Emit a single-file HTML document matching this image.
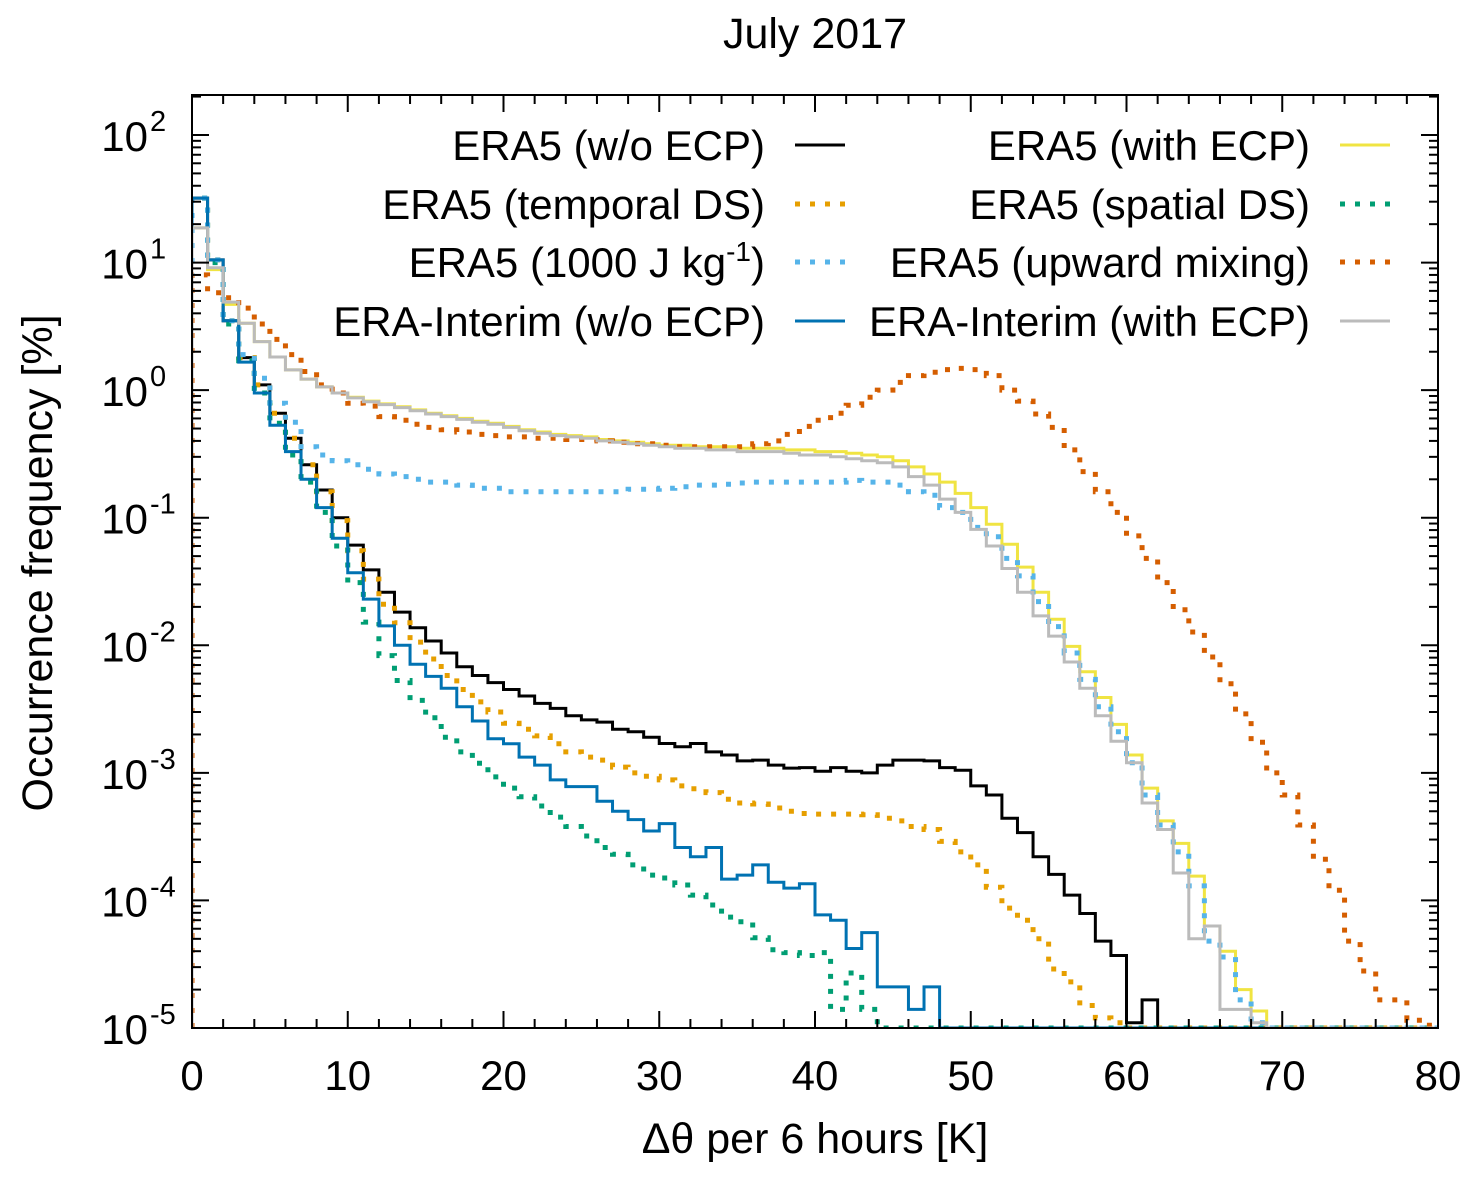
<!DOCTYPE html>
<html><head><meta charset="utf-8"><style>
html,body{margin:0;padding:0;background:#fff;}
svg{display:block;font-family:"Liberation Sans",sans-serif;}
</style></head><body>
<svg id="chart" width="1483" height="1180" viewBox="0 0 1483 1180" xmlns="http://www.w3.org/2000/svg">
<g id="marks"></g>
<g id="axes"></g>
<g id="legend"></g>
<text x="815" y="48" font-size="43" text-anchor="middle">July 2017</text>
<text x="815" y="1153" font-size="43" text-anchor="middle">Δθ per 6 hours [K]</text>
<text transform="translate(52,563) rotate(-90)" font-size="43" text-anchor="middle">Occurrence frequency [%]</text>
</svg>
<script>
const xTicks = [0,10,20,30,40,50,60,70,80];
const yDecades = [-5,-4,-3,-2,-1,0,1,2];
const era5NoEcp = [32,10.5,3.5,1.8,1.1,0.66,0.42,0.26,0.165,0.1,0.061,0.039,0.026,0.0182,0.0137,0.0108,0.0087,0.0068,0.0058,0.0051,0.0045,0.0040,0.0035,0.0032,0.0028,0.0026,0.0025,0.0022,0.0021,0.0019,0.0017,0.0016,0.0017,0.00146,0.00138,0.00124,0.00126,0.00115,0.00109,0.0011,0.00103,0.0011,0.00103,0.001,0.00115,0.00126,0.00126,0.00124,0.0011,0.00105,7.9e-4,6.7e-4,4.4e-4,3.4e-4,2.2e-4,1.6e-4,1.1e-4,7.9e-5,4.8e-5,3.7e-5,1.1e-5,1.66e-5];
const era5WithEcp = [18.7,8.8,4.7,3.35,2.4,1.82,1.44,1.22,1.06,0.95,0.88,0.82,0.78,0.74,0.70,0.66,0.63,0.60,0.57,0.55,0.52,0.49,0.47,0.45,0.44,0.43,0.41,0.40,0.39,0.38,0.37,0.37,0.36,0.36,0.36,0.35,0.35,0.35,0.34,0.34,0.33,0.33,0.32,0.31,0.30,0.28,0.25,0.22,0.19,0.155,0.12,0.089,0.062,0.041,0.026,0.016,0.0098,0.0062,0.0039,0.0024,0.00138,7.6e-4,4.2e-4,2.8e-4,1.55e-4,6.3e-5,4e-5,2e-5,1.36e-5];
const era5TemporalDs = [32,10.5,3.5,1.8,1.1,0.66,0.42,0.26,0.16,0.095,0.055,0.033,0.021,0.015,0.0106,0.0078,0.0058,0.0045,0.0036,0.0030,0.00245,0.0022,0.00195,0.00169,0.00146,0.00133,0.00126,0.00111,0.00100,9.4e-4,8.8e-4,7.9e-4,7.5e-4,7.0e-4,6.2e-4,5.8e-4,5.7e-4,5.3e-4,5.0e-4,4.8e-4,4.75e-4,4.75e-4,4.75e-4,4.7e-4,4.4e-4,4.2e-4,3.8e-4,3.6e-4,2.9e-4,2.4e-4,1.9e-4,1.27e-4,8.7e-5,7.0e-5,5.0e-5,2.9e-5,2.3e-5,1.5e-5,1.2e-5,1.1e-5];
const era5SpatialDs = [32,10,3.3,1.7,0.95,0.55,0.31,0.19,0.11,0.06,0.031,0.0152,0.0083,0.0053,0.0037,0.0027,0.0019,0.00146,0.00119,9.3e-4,7.6e-4,6.5e-4,5.5e-4,4.5e-4,3.8e-4,3.2e-4,2.6e-4,2.3e-4,1.9e-4,1.58e-4,1.5e-4,1.32e-4,1.1e-4,9.2e-5,7.4e-5,6.8e-5,5.1e-5,4.1e-5,3.9e-5,3.7e-5,3.9e-5,1.4e-5,2.7e-5,1.4e-5];
const era5Cape1000 = [32,10.5,3.5,1.9,1.24,0.79,0.56,0.36,0.31,0.28,0.26,0.24,0.22,0.21,0.20,0.19,0.19,0.18,0.17,0.17,0.16,0.16,0.16,0.16,0.16,0.16,0.16,0.16,0.167,0.167,0.17,0.175,0.18,0.18,0.183,0.187,0.19,0.19,0.19,0.19,0.19,0.19,0.196,0.19,0.19,0.18,0.16,0.15,0.12,0.11,0.084,0.071,0.048,0.035,0.022,0.014,0.0087,0.0054,0.0033,0.0021,0.0012,6.7e-4,3.9e-4,2.4e-4,1.3e-4,4.8e-5,3.6e-5,1.66e-5,1.1e-5];
const era5Upward = [8,5.8,5.3,4.4,3.3,2.5,1.9,1.4,1.1,0.95,0.79,0.75,0.62,0.58,0.54,0.51,0.49,0.47,0.45,0.44,0.43,0.43,0.42,0.42,0.41,0.41,0.40,0.39,0.38,0.38,0.37,0.36,0.36,0.36,0.36,0.36,0.38,0.40,0.45,0.52,0.58,0.66,0.76,0.88,1.0,1.15,1.3,1.38,1.45,1.48,1.45,1.3,1.0,0.82,0.65,0.51,0.34,0.23,0.16,0.11,0.072,0.048,0.031,0.019,0.0127,0.0081,0.005,0.0029,0.00174,0.001,6.7e-4,3.9e-4,2.1e-4,1.2e-4,4.8e-5,2.8e-5,1.66e-5,1.66e-5,1.15e-5,1.05e-5];
const eraiNoEcp = [32,10.5,3.5,1.66,0.95,0.53,0.33,0.2,0.12,0.069,0.037,0.023,0.0142,0.0100,0.0071,0.0057,0.0046,0.0033,0.00255,0.00185,0.00169,0.00133,0.00115,8.8e-4,7.8e-4,7.8e-4,6.0e-4,5.0e-4,4.3e-4,3.5e-4,4.0e-4,2.6e-4,2.2e-4,2.6e-4,1.47e-4,1.58e-4,1.9e-4,1.39e-4,1.25e-4,1.35e-4,7.7e-5,7.0e-5,4.2e-5,5.6e-5,2.1e-5,2.1e-5,1.4e-5,2.1e-5];
const eraiWithEcp = [18.7,9.1,4.9,3.35,2.4,1.82,1.44,1.22,1.06,0.95,0.87,0.81,0.77,0.73,0.69,0.65,0.62,0.59,0.56,0.54,0.51,0.48,0.46,0.44,0.43,0.42,0.40,0.39,0.38,0.37,0.36,0.35,0.35,0.34,0.34,0.33,0.33,0.33,0.32,0.31,0.31,0.30,0.29,0.28,0.27,0.25,0.21,0.18,0.14,0.11,0.081,0.060,0.04,0.026,0.017,0.0118,0.0074,0.0046,0.0028,0.00177,0.0012,5.8e-4,3.6e-4,1.64e-4,5e-5,6.3e-5,1.4e-5,1.4e-5,1.1e-5];

const NS = 'http://www.w3.org/2000/svg';
const X0 = 192, X1 = 1438, YT = 95, YB = 1028;
const XMIN = 0, XMAX = 80, LMIN = -5, LMAX = 2.3135;
const nBins = 80;
function xs(v){ return X0 + (v - XMIN) / (XMAX - XMIN) * (X1 - X0); }
function ys(v){ const l = Math.max(Math.log10(Math.max(v, 1e-5)), LMIN); return YB - (l - LMIN) / (LMAX - LMIN) * (YB - YT); }

const series = [
  {label:'ERA5 (w/o ECP)', data: era5NoEcp, color:'#000000', dotted:false, name:'series-era5-wo-ecp'},
  {label:'ERA5 (with ECP)', data: era5WithEcp, color:'#f0e442', dotted:false, name:'series-era5-with-ecp'},
  {label:'ERA5 (temporal DS)', data: era5TemporalDs, color:'#e69f00', dotted:true, name:'series-era5-temporal-ds'},
  {label:'ERA5 (spatial DS)', data: era5SpatialDs, color:'#009e73', dotted:true, name:'series-era5-spatial-ds'},
  {label:'ERA5 (1000 J kg-1)', data: era5Cape1000, color:'#56b4e9', dotted:true, name:'series-era5-1000-j-kg'},
  {label:'ERA5 (upward mixing)', data: era5Upward, color:'#d55e00', dotted:true, name:'series-era5-upward-mixing'},
  {label:'ERA-Interim (w/o ECP)', data: eraiNoEcp, color:'#0072b2', dotted:false, name:'series-erai-wo-ecp'},
  {label:'ERA-Interim (with ECP)', data: eraiWithEcp, color:'#bbbbbb', dotted:false, name:'series-erai-with-ecp'}
];

const marks = document.getElementById('marks');
const defs = document.createElementNS(NS,'defs');
defs.innerHTML = '<clipPath id="plotclip"><rect x="'+X0+'" y="'+YT+'" width="'+(X1-X0)+'" height="'+(YB-YT)+'"/></clipPath>';
document.getElementById('chart').insertBefore(defs, marks);
marks.setAttribute('clip-path','url(#plotclip)');

series.forEach(s => {
  let d = 'M' + xs(0) + ' ' + YB;
  for (let k = 0; k < nBins; k++) {
    const v = s.data[k] === undefined ? 0 : s.data[k];
    const y = ys(v);
    d += ' L' + xs(k) + ' ' + y.toFixed(1) + ' L' + xs(k + 1) + ' ' + y.toFixed(1);
  }
  const p = document.createElementNS(NS,'path');
  p.setAttribute('d', d);
  p.setAttribute('fill','none');
  p.setAttribute('stroke', s.color);
  if (s.dotted) { p.setAttribute('stroke-width','5'); p.setAttribute('stroke-dasharray','5 10'); }
  else { p.setAttribute('stroke-width','3'); }
  
  
  marks.appendChild(p);
});

const axes = document.getElementById('axes');
function line(x1,y1,x2,y2,w,name){
  const l = document.createElementNS(NS,'line');
  l.setAttribute('x1',x1); l.setAttribute('y1',y1); l.setAttribute('x2',x2); l.setAttribute('y2',y2);
  l.setAttribute('stroke','#000'); l.setAttribute('stroke-width',w);
  
  
  axes.appendChild(l);
}
const frame = document.createElementNS(NS,'rect');
frame.setAttribute('x',X0); frame.setAttribute('y',YT); frame.setAttribute('width',X1-X0); frame.setAttribute('height',YB-YT);
frame.setAttribute('fill','none'); frame.setAttribute('stroke','#000'); frame.setAttribute('stroke-width','2');


axes.appendChild(frame);

for (let v = 0; v <= 80; v += 2) {
  const major = v % 10 === 0;
  const L = major ? 17 : 9;
  const x = xs(v);
  line(x, YB, x, YB - L, 2, 'x-tick');
  line(x, YT, x, YT + L, 2, 'x-tick-top');
}
xTicks.forEach(v => {
  const t = document.createElementNS(NS,'text');
  t.setAttribute('x', xs(v)); t.setAttribute('y', 1090);
  t.setAttribute('font-size','42'); t.setAttribute('text-anchor','middle');
  t.textContent = v;
  
  
  axes.appendChild(t);
});
yDecades.forEach(e => {
  const y = ys(Math.pow(10, e));
  line(X0, y, X0 + 17, y, 2, 'y-tick');
  line(X1, y, X1 - 17, y, 2, 'y-tick-right');
  if (e < 2) {
    for (let m = 2; m <= 9; m++) {
      const ym = ys(m * Math.pow(10, e));
      line(X0, ym, X0 + 9, ym, 2, 'y-minor-tick');
      line(X1, ym, X1 - 9, ym, 2, 'y-minor-tick-right');
    }
  }
  const t = document.createElementNS(NS,'text');
  t.setAttribute('x', 148); t.setAttribute('y', y + 16);
  t.setAttribute('font-size','42'); t.setAttribute('text-anchor','end');
  t.textContent = '10';
  
  
  axes.appendChild(t);
  const s = document.createElementNS(NS,'text');
  s.setAttribute('x', 150); s.setAttribute('y', y - 4);
  s.setAttribute('font-size','29'); s.setAttribute('text-anchor','start');
  s.textContent = String(e);
  
  
  axes.appendChild(s);
});
{
  const ym = ys(200);
  line(X0, ym, X0 + 9, ym, 2, 'y-minor-tick');
  line(X1, ym, X1 - 9, ym, 2, 'y-minor-tick-right');
}

const legend = document.getElementById('legend');
const rowsY = [145, 204, 262, 321];
series.forEach((s, i) => {
  const col = i % 2, row = Math.floor(i / 2);
  const textRight = col === 0 ? 765 : 1310;
  const lx = col === 0 ? 795 : 1340;
  const y = rowsY[row];
  const g = document.createElementNS(NS,'g');
  
  
  const t = document.createElementNS(NS,'text');
  t.setAttribute('x', textRight); t.setAttribute('y', y + 15);
  t.setAttribute('font-size','42'); t.setAttribute('text-anchor','end');
  if (s.label.indexOf('J kg') >= 0) {
    t.innerHTML = 'ERA5 (1000 J kg<tspan dy="-16" font-size="28">-1</tspan><tspan dy="16">)</tspan>';
  } else {
    t.textContent = s.label;
  }
  
  
  g.appendChild(t);
  const l = document.createElementNS(NS,'line');
  l.setAttribute('x1', lx); l.setAttribute('x2', lx + 50);
  l.setAttribute('y1', y); l.setAttribute('y2', y);
  l.setAttribute('stroke', s.color);
  if (s.dotted) { l.setAttribute('stroke-width','5'); l.setAttribute('stroke-dasharray','5 10'); }
  else l.setAttribute('stroke-width','3');
  
  
  g.appendChild(l);
  legend.appendChild(g);
});
</script>
</body></html>
